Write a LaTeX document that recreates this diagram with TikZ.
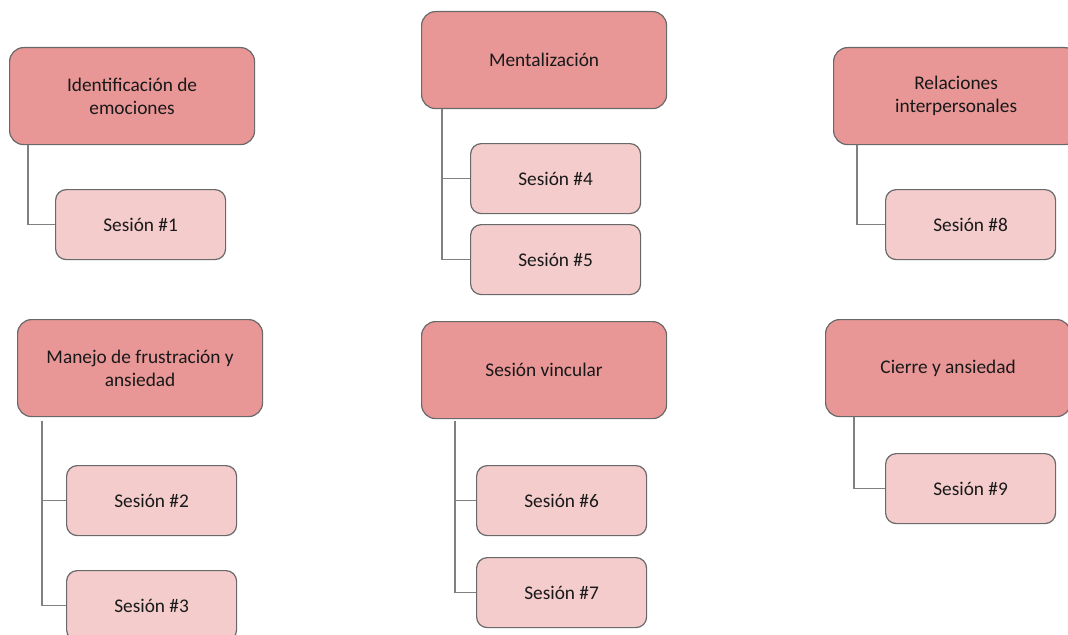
\documentclass[tikz,border=0pt]{standalone}
\usepackage{fontspec}
\setmainfont{Carlito}
\definecolor{topicred}{RGB}{232, 150, 150}
\definecolor{sesionpink}{RGB}{244, 204, 204}
\definecolor{edgegray}{RGB}{105, 105, 105}
\definecolor{linegray}{RGB}{128, 128, 128}
\usetikzlibrary{positioning, calc}

\begin{document}
\begin{tikzpicture}[x=0.75pt, y=-0.75pt, font=\fontsize{14.5}{17.4}\selectfont]
      \tikzstyle{topic} = [rectangle, draw=edgegray, line width=0.9pt, fill=topicred, text=black!90, align=center, rounded corners=10.5pt, minimum width=183.75pt, minimum height=72.75pt, anchor=north west]
      \tikzstyle{sesion} = [rectangle, draw=edgegray, line width=0.9pt, fill=sesionpink, text=black!90, align=center, rounded corners=8pt, minimum width=127.5pt, minimum height=52.5pt, anchor=north west]
      \tikzstyle{line} = [draw=linegray, line width=1.1pt]

      \useasboundingbox (0,0) rectangle (1068,635);

      % first row
      \node [topic] (ident) at (9,47) {Identificación de\\emociones};
      \node [sesion] (s1) at (55,189) {Sesión \#1};

      \node [topic] (ment) at (421,11) {Mentalización};
      \node [sesion] (s4) at (470,143) {Sesión \#4};
      \node [sesion] (s5) at (470,224) {Sesión \#5};

      \node [topic] (rel) at (833,47) {Relaciones\\interpersonales};
      \node [sesion] (s8) at (885,189) {Sesión \#8};

      % second row
      \node [topic] (manejo) at (17,319) {Manejo de frustración y\\ansiedad};
      \node [sesion] (s2) at (66,465) {Sesión \#2};
      \node [sesion] (s3) at (66,570) {Sesión \#3};

      \node [topic] (vinc) at (421,321) {Sesión vincular};
      \node [sesion] (s6) at (476,465) {Sesión \#6};
      \node [sesion] (s7) at (476,557) {Sesión \#7};

      \node [topic] (cierre) at (825,319) {Cierre y ansiedad};
      \node [sesion] (s9) at (885,453) {Sesión \#9};

      \path [line] ($(ident.south west)+(19,0)$) |- (s1.west);
      \path [line] ($(ment.south west)+(21,0)$) |- (s4.west);
      \path [line] ($(ment.south west)+(21,0)$) |- (s5.west);
      \path [line] ($(rel.south west)+(24,0)$) |- (s8.west);
      \path [line] ($(manejo.south west)+(25,4)$) |- (s2.west);
      \path [line] ($(manejo.south west)+(25,4)$) |- (s3.west);
      \path [line] ($(vinc.south west)+(34,2)$) |- (s6.west);
      \path [line] ($(vinc.south west)+(34,2)$) |- (s7.west);
      \path [line] ($(cierre.south west)+(29,0)$) |- (s9.west);
    \end{tikzpicture}
\end{document}
